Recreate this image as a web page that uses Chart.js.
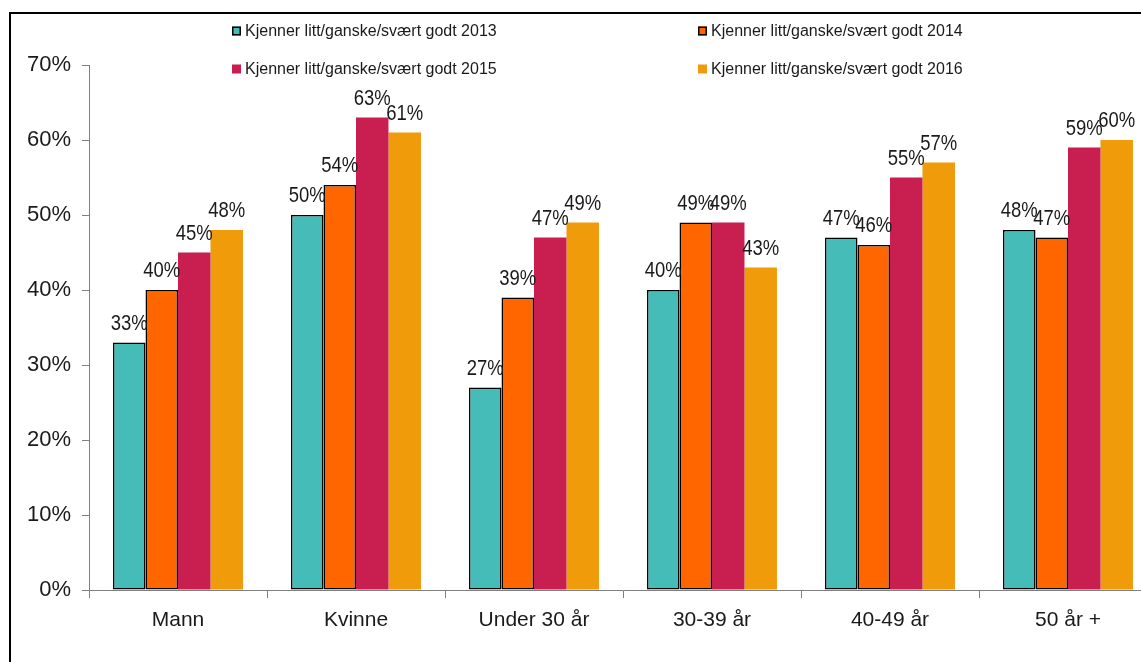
<!DOCTYPE html>
<html>
<head>
<meta charset="utf-8">
<script src="https://cdn.jsdelivr.net/npm/chart.js@4"></script>
<style>
  html, body { margin: 0; padding: 0; background: #fff; overflow: hidden; }
  #wrap { position: absolute; left: 0; top: 0; width: 1170px; height: 662px; }
  #frame { position: absolute; left: 9px; top: 12px; width: 1200px; height: 700px;
           border-top: 2px solid #000; border-left: 2px solid #000; pointer-events: none; }
</style>
</head>
<body>
<div id="wrap"><canvas id="myChart" width="1170" height="662"></canvas></div>
<div id="frame"></div>
<script>
// chart data
const categories = ['Mann', 'Kvinne', 'Under 30 år', '30-39 år', '40-49 år', '50 år +'];
const seriesNames = [
    'Kjenner litt/ganske/svært godt 2013',
    'Kjenner litt/ganske/svært godt 2014',
    'Kjenner litt/ganske/svært godt 2015',
    'Kjenner litt/ganske/svært godt 2016'
];
const values2013 = [33, 50, 27, 40, 47, 48];
const values2014 = [40, 54, 39, 49, 46, 47];
const values2015 = [45, 63, 47, 49, 55, 59];
const values2016 = [48, 61, 49, 43, 57, 60];
const yTicks = [0, 10, 20, 30, 40, 50, 60, 70];

const colors = ['#45bcb8', '#ff6600', '#c81e50', '#f09b0a'];
const outlined = [true, true, false, false];
const FONT = '"Liberation Sans", Arial, sans-serif';

// value labels above every bar (text is a bit taller than wide, like the original)
const valueLabels = {
    id: 'valueLabels',
    afterDatasetsDraw(chart) {
        const ctx = chart.ctx;
        ctx.save();
        ctx.fillStyle = '#1a1a1a';
        ctx.font = '18.5px ' + FONT;
        ctx.textAlign = 'center';
        ctx.textBaseline = 'alphabetic';
        chart.data.datasets.forEach((ds, i) => {
            chart.getDatasetMeta(i).data.forEach((bar, j) => {
                ctx.save();
                ctx.translate(bar.x, bar.y - 13);
                ctx.scale(1, 1.18);
                ctx.fillText(ds.data[j] + '%', 0, 0);
                ctx.restore();
            });
        });
        ctx.restore();
    }
};

// two-column legend laid over the top of the plot
const gridLegend = {
    id: 'gridLegend',
    afterDraw(chart) {
        const ctx = chart.ctx;
        const cols = [232, 698];
        const rows = [31, 69];
        ctx.save();
        ctx.font = '16px ' + FONT;
        ctx.textBaseline = 'middle';
        ctx.textAlign = 'left';
        chart.data.datasets.forEach((ds, i) => {
            const x = cols[i % 2];
            const y = rows[Math.floor(i / 2)];
            ctx.fillStyle = ds.backgroundColor;
            ctx.fillRect(x, y - 4.5, 9, 9);
            if (outlined[i]) {
                ctx.strokeStyle = '#000';
                ctx.lineWidth = 1.5;
                ctx.strokeRect(x + 0.75, y - 3.75, 7.5, 7.5);
            }
            ctx.fillStyle = '#1a1a1a';
            ctx.fillText(ds.label, x + 13, y + 1);
        });
        ctx.restore();
    }
};

const allValues = [values2013, values2014, values2015, values2016];

const ctx = document.getElementById('myChart').getContext('2d');
const myChart = new Chart(ctx, {
    type: 'bar',
    data: {
        labels: categories,
        datasets: allValues.map((vals, i) => ({
            label: seriesNames[i],
            data: vals,
            backgroundColor: colors[i],
            borderColor: outlined[i] ? '#000' : colors[i],
            borderWidth: outlined[i] ? 1.5 : 0,
            borderSkipped: false,
            categoryPercentage: 0.73,
            barPercentage: 1.0
        }))
    },
    options: {
        responsive: false,
        animation: false,
        devicePixelRatio: 1,
        layout: { padding: { top: 65, right: 13, left: 0, bottom: 0 } },
        plugins: {
            legend: { display: false },
            tooltip: { enabled: false }
        },
        scales: {
            x: {
                grid: { display: true, drawOnChartArea: false, tickLength: 8, color: '#808080', offset: true },
                border: { color: '#808080', width: 1 },
                ticks: { color: '#1a1a1a', font: { family: FONT, size: 21 }, padding: 10 },
                afterFit(scale) { scale.height = 72; }
            },
            y: {
                min: 0,
                max: 70,
                afterBuildTicks(scale) { scale.ticks = yTicks.map(v => ({ value: v })); },
                grid: { display: true, drawOnChartArea: false, tickLength: 7, color: '#808080' },
                border: { color: '#808080', width: 1 },
                ticks: {
                    color: '#1a1a1a',
                    font: { family: FONT, size: 22 },
                    padding: 11,
                    callback: v => v + '%'
                },
                afterFit(scale) { scale.width = 89; }
            }
        }
    },
    plugins: [valueLabels, gridLegend]
});
</script>
</body>
</html>
